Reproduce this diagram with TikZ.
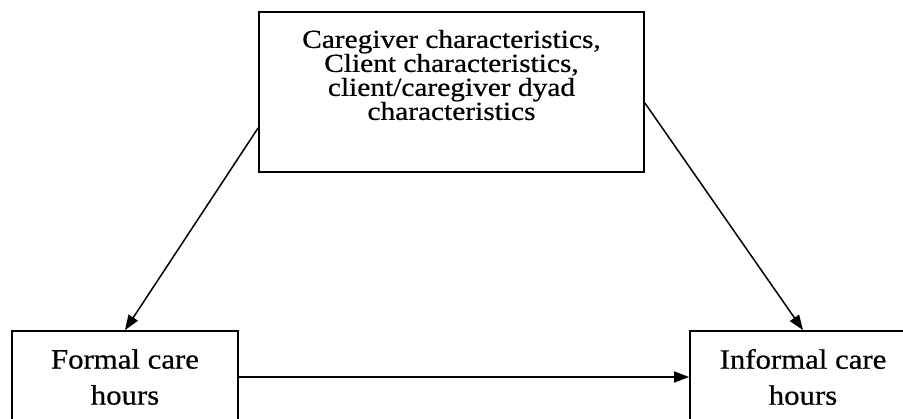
\documentclass[tikz,border=0pt]{standalone}
\usepackage{fontspec}
\setmainfont{Liberation Serif}
\newfontfamily\widefont{Liberation Serif}[FakeStretch=1.13, FakeBold=0.6]
\newfontfamily\boxfont{Liberation Serif}[FakeStretch=1.1, FakeBold=0.6]
\usetikzlibrary{arrows.meta}
\begin{document}
\begin{tikzpicture}[x=1pt, y=-1pt,
    box/.style={draw, line width=1.8pt, minimum width=226pt, minimum height=92pt, inner sep=0pt},
    boxtext/.style={font=\boxfont\fontsize{28pt}{36pt}\selectfont, align=center},
    tighttext/.style={font={\widefont\fontsize{26pt}{24pt}\selectfont\lineskiplimit=-100pt\relax}, align=center},
    link/.style={-{Triangle[length=15pt,width=11pt]}, line width=1.5pt}]
\useasboundingbox (0, 0) rectangle (903, 419);

% top box
\node (factors) at (451.5, 92) [box, minimum width=385pt, minimum height=160pt] {};
\node (factorstext) at (451.5, 75) [tighttext] {Caregiver characteristics,\\Client characteristics,\\client/caregiver dyad\\characteristics};

% bottom boxes
\node (formal) at (125, 377) [box, boxtext] {Formal care\\hours};
\node (informal) at (803, 377) [box, boxtext] {Informal care\\hours};

\draw [link] ([yshift=-36pt]factors.west) -- (formal.north);
\draw [link] ([yshift=-11pt]factors.east) -- (informal.north);
\draw [link] (formal) -- (informal);

\end{tikzpicture}
\end{document}
